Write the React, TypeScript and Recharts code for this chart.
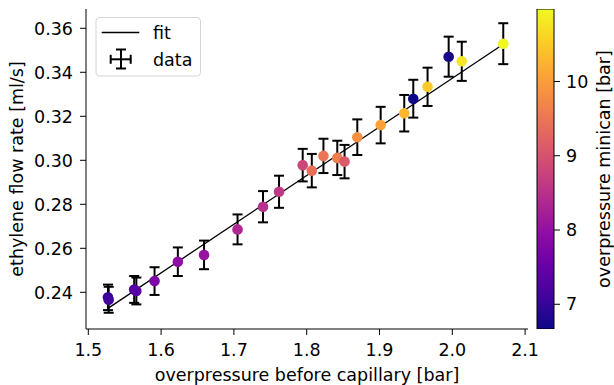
import React from 'react';
import { ComposedChart, BarChart, Bar, Scatter, ErrorBar, XAxis, YAxis } from 'recharts';

const pressureBefore = [1.527, 1.528, 1.563, 1.566, 1.591, 1.623, 1.659, 1.705, 1.74, 1.762, 1.7945, 1.807, 1.823, 1.842, 1.852, 1.8695, 1.9016, 1.934, 1.9464, 1.966, 1.995, 2.013, 2.07];
const flowRate = [0.2377, 0.2366, 0.2413, 0.2406, 0.2451, 0.2539, 0.257, 0.2686, 0.2789, 0.2857, 0.2978, 0.2953, 0.302, 0.3011, 0.2994, 0.3105, 0.316, 0.3214, 0.328, 0.3334, 0.3471, 0.345, 0.353];
const flowErr = [0.0058, 0.0059, 0.0061, 0.0061, 0.0063, 0.0065, 0.0065, 0.0068, 0.0071, 0.0073, 0.0074, 0.0076, 0.0078, 0.0078, 0.0076, 0.0081, 0.0083, 0.0083, 0.0086, 0.0087, 0.0091, 0.0089, 0.0093];
const pressureMinican = [7.0, 7.1, 7.3, 7.35, 7.75, 7.95, 8.05, 8.35, 8.5, 8.6, 8.8, 9.4, 9.5, 9.6, 9.1, 9.85, 10.05, 10.3, 6.67, 10.5, 6.75, 10.8, 10.97];

// linear fit, endpoints
const fitX = [1.527, 2.072];
const fitY = [0.2327, 0.3532];

const xTicks = [1.5, 1.6, 1.7, 1.8, 1.9, 2.0, 2.1];
const yTicks = [0.24, 0.26, 0.28, 0.3, 0.32, 0.34, 0.36];
const cbTicks = [7, 8, 9, 10];
const cbMin = 6.667;
const cbMax = 10.976;

const FONT = "'DejaVu Sans', sans-serif";
const FS = 17.5;

// plasma colormap anchors (t = 0, 0.1, ... 1)
const PLASMA = ['#0d0887', '#41049d', '#6a00a8', '#8f0da4', '#b12a90', '#cc4778', '#e16462', '#f2844b', '#fca636', '#fcce25', '#f0f921'];

const hex = (c: string) => [1, 3, 5].map((i) => parseInt(c.slice(i, i + 2), 16));
const plasma = (v: number) => {
  const t = Math.min(1, Math.max(0, (v - cbMin) / (cbMax - cbMin))) * 10;
  const i = Math.min(9, Math.floor(t));
  const f = t - i;
  const a = hex(PLASMA[i]);
  const b = hex(PLASMA[i + 1]);
  return `rgb(${a.map((x, k) => Math.round(x + (b[k] - x) * f)).join(',')})`;
};

const points = pressureBefore.map((x, i) => ({ x, y: flowRate[i], err: flowErr[i], p: pressureMinican[i] }));
const fitLine = fitX.map((x, i) => ({ x, y: fitY[i] }));
const cbData = [{ name: 'cb', range: [cbMin, cbMax] }];

const W = 614;
const H = 385;
const xDomain = [1.49684, 2.10398];
const yDomain = [0.22332, 0.36877];

const tickStyle = { fill: '#000', fontSize: FS, fontFamily: FONT };

const Dot = (props: any) => <circle cx={props.cx} cy={props.cy} r={5.3} fill={plasma(props.payload.p)} />;

const YTitle = ({ viewBox }: any) => {
  const cx = 22.5;
  const cy = viewBox.y + viewBox.height / 2;
  return (
    <text x={cx} y={cy} transform={`rotate(-90 ${cx} ${cy})`} textAnchor="middle" fontSize={FS} fontFamily={FONT} fill="#000">
      ethylene flow rate [ml/s]
    </text>
  );
};

const XTitle = ({ viewBox }: any) => (
  <text x={viewBox.x + viewBox.width / 2} y={381} textAnchor="middle" fontSize={FS} fontFamily={FONT} fill="#000">
    overpressure before capillary [bar]
  </text>
);

const CbTitle = ({ viewBox }: any) => {
  const cx = 610;
  const cy = viewBox.y + viewBox.height / 2;
  return (
    <text x={cx} y={cy} transform={`rotate(-90 ${cx} ${cy})`} textAnchor="middle" fontSize={FS} fontFamily={FONT} fill="#000">
      overpressure minican [bar]
    </text>
  );
};

const LegendBox = () => (
  <svg width={W} height={H} style={{ position: 'absolute', left: 0, top: 0, pointerEvents: 'none' }}>
    <rect x={96} y={17.5} width={104.5} height={58.5} rx={3.5} fill="#fff" fillOpacity={0.8} stroke="#d4d4d4" strokeWidth={1} />
    <line x1={101.7} x2={139.3} y1={32.5} y2={32.5} stroke="#000" strokeWidth={1.3} />
    <g stroke="#000" strokeWidth={2}>
      <line x1={121} x2={121} y1={49.5} y2={68.5} />
      <line x1={116} x2={126} y1={49.5} y2={49.5} />
      <line x1={116} x2={126} y1={68.5} y2={68.5} />
      <line x1={110.7} x2={130.7} y1={59.3} y2={59.3} />
      <line x1={110.7} x2={110.7} y1={54.8} y2={63.8} />
      <line x1={130.7} x2={130.7} y1={54.8} y2={63.8} />
    </g>
    <text x={153} y={39} fontSize={FS} fontFamily={FONT} fill="#000">fit</text>
    <text x={153} y={65.7} fontSize={FS} fontFamily={FONT} fill="#000">data</text>
  </svg>
);

export default function App() {
  return (
    <div style={{ position: 'absolute', left: 0, top: 0, width: W, height: H, background: '#fff' }}>
      <div style={{ position: 'absolute', left: 0, top: 0 }}>
        <ComposedChart width={W} height={H} margin={{ top: 9, right: 86, bottom: 0, left: 0 }}>
          <XAxis
            xAxisId="b" dataKey="x" type="number" domain={xDomain} ticks={xTicks} allowDataOverflow
            tickFormatter={(v: number) => v.toFixed(1)} height={56} stroke="#000" tickSize={6} tickMargin={9}
            tick={tickStyle} label={<XTitle />}
          />
          <XAxis xAxisId="t" orientation="top" type="number" domain={xDomain} allowDataOverflow height={0} tick={false} tickLine={false} stroke="#000" />
          <YAxis
            yAxisId="l" dataKey="y" type="number" domain={yDomain} ticks={yTicks} allowDataOverflow
            tickFormatter={(v: number) => v.toFixed(2)} width={86} stroke="#000" tickSize={6} tickMargin={7}
            tick={tickStyle} label={<YTitle />}
          />
          <YAxis yAxisId="r" orientation="right" type="number" domain={yDomain} allowDataOverflow width={0} tick={false} tickLine={false} stroke="#000" />
          <Scatter
            xAxisId="b" yAxisId="l" data={fitLine} line={{ stroke: '#000', strokeWidth: 1.3 }} lineType="joint"
            shape={() => <g />} isAnimationActive={false}
          />
          <Scatter xAxisId="b" yAxisId="l" data={points} shape={Dot} isAnimationActive={false}>
            <ErrorBar dataKey="err" direction="y" width={5} stroke="#000" strokeWidth={2} isAnimationActive={false} />
          </Scatter>
        </ComposedChart>
      </div>
      <div style={{ position: 'absolute', left: 0, top: 0 }}>
        <BarChart width={W} height={H} data={cbData} margin={{ top: 9, right: 10, bottom: 56, left: 537 }} barCategoryGap={0}>
          <defs>
            <linearGradient id="plasmaGrad" x1="0" y1="1" x2="0" y2="0">
              {PLASMA.map((c, i) => (
                <stop key={i} offset={`${i * 10}%`} stopColor={c} />
              ))}
            </linearGradient>
          </defs>
          <XAxis dataKey="name" hide />
          <YAxis
            orientation="right" type="number" domain={[cbMin, cbMax]} ticks={cbTicks} allowDataOverflow
            width={50} axisLine={false} stroke="#000" tickSize={6} tickMargin={6} tick={tickStyle} label={<CbTitle />}
          />
          <Bar dataKey="range" fill="url(#plasmaGrad)" stroke="#000" strokeWidth={1} isAnimationActive={false} />
        </BarChart>
      </div>
      <LegendBox />
    </div>
  );
}
